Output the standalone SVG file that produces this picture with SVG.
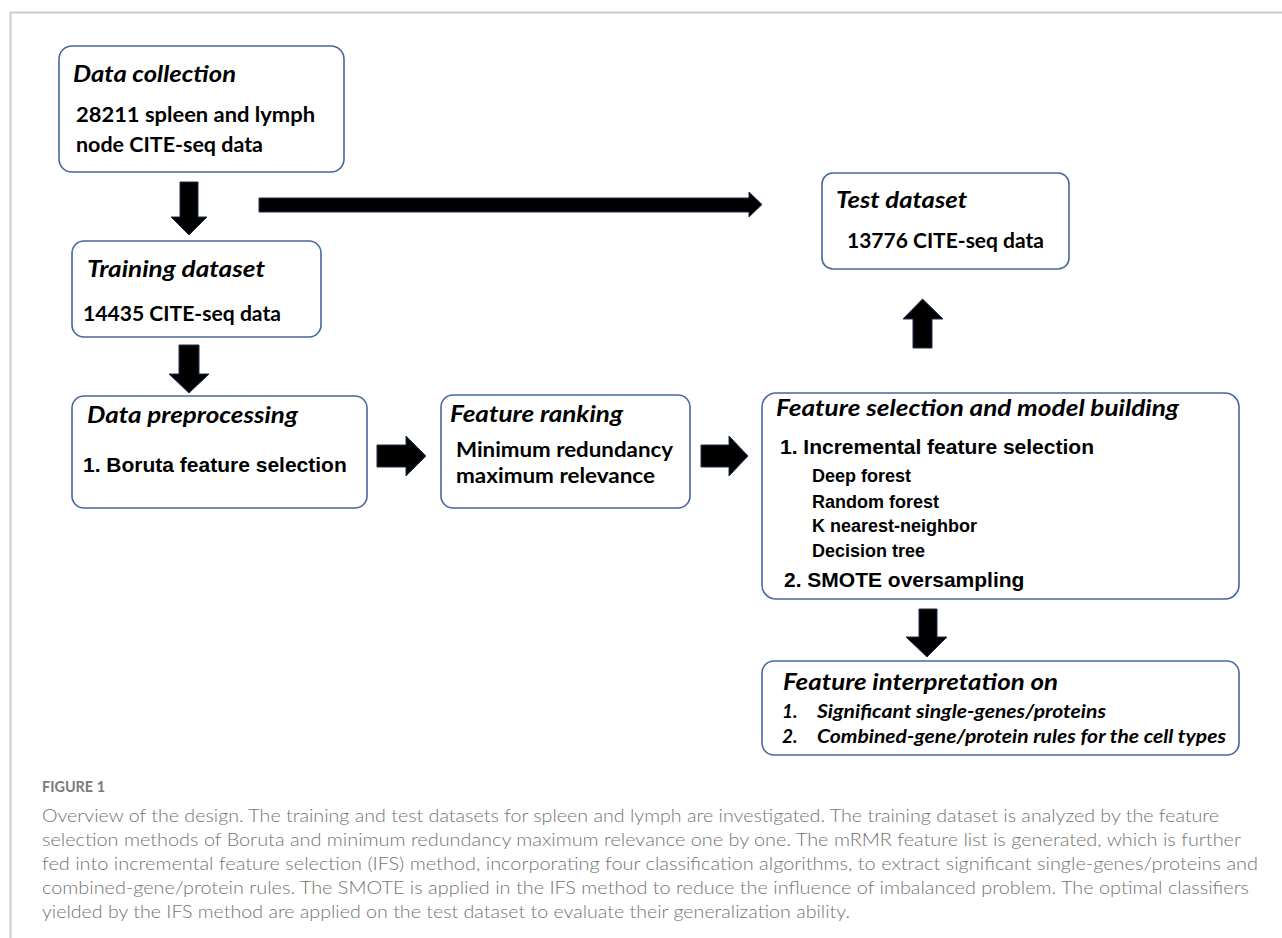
<svg xmlns="http://www.w3.org/2000/svg" width="1282" height="938" viewBox="0 0 1282 938">
<style>
.box{fill:#fff;stroke:#45679a;stroke-width:1.6}
.ttl{font-family:Lato,"Liberation Sans",sans-serif;font-weight:700;font-style:italic;font-size:22px;fill:#000}
.cal{font-family:Lato,"Liberation Sans",sans-serif;font-weight:700;font-size:21px;fill:#000}
.ari{font-family:"Liberation Sans",Arial,sans-serif;font-weight:700;font-size:21px;fill:#000}
.ari18{font-family:"Liberation Sans",Arial,sans-serif;font-weight:700;font-size:18px;fill:#000}
.lst{font-family:Lato,"Liberation Sans",sans-serif;font-weight:700;font-style:italic;font-size:19px;fill:#000}
.arr{fill:#000;stroke:#1d2d50;stroke-width:1}
.cap{font-family:Lato,"Open Sans",sans-serif;font-weight:300;font-size:18px;fill:#747474}
.fig{font-family:Lato,"Open Sans",sans-serif;font-weight:700;font-size:15px;fill:#7a7a7a}
</style>
<g id="frame">
<line x1="10" y1="12.5" x2="1282" y2="12.5" stroke="#cccccc" stroke-width="2"/>
<line x1="10.5" y1="12" x2="10.5" y2="938" stroke="#cccccc" stroke-width="2"/>
</g>
<g id="connectors">
<polygon class="arr" points="180,182 198,182 198,217 207,217 189,235 171,217 180,217"/>
<polygon class="arr" points="179,345 199,345 199,374 209,374 189,393 169,374 179,374"/>
<polygon class="arr" points="259,198 749,198 749,192 762,204.5 749,217 749,212 259,212"/>
<polygon class="arr" points="377,445 406,445 406,436 426,456 406,476 406,467 377,467"/>
<polygon class="arr" points="701,445 729,445 729,436 748,456 729,476 729,467 701,467"/>
<polygon class="arr" points="913,348 913,319 903,319 922.5,299 943,319 932,319 932,348"/>
<polygon class="arr" points="919,609 937,609 937,637 947,637 927,657 906,637 919,637"/>
</g>
<g id="data-collection">
<rect class="box" x="59" y="46" width="285" height="126" rx="13"/>
<text class="ttl" x="73" y="82" textLength="163" lengthAdjust="spacingAndGlyphs">Data collection</text>
<text class="cal" x="76" y="122" textLength="239" lengthAdjust="spacingAndGlyphs">28211 spleen and lymph</text>
<text class="cal" x="76" y="152" textLength="187" lengthAdjust="spacingAndGlyphs">node CITE-seq data</text>
</g>
<g id="training-dataset">
<rect class="box" x="72" y="241" width="249" height="96" rx="12"/>
<text class="ttl" x="87" y="277" textLength="178" lengthAdjust="spacingAndGlyphs">Training dataset</text>
<text class="cal" x="83" y="321" textLength="198" lengthAdjust="spacingAndGlyphs">14435 CITE-seq data</text>
</g>
<g id="data-preprocessing">
<rect class="box" x="72" y="396" width="295" height="112" rx="12"/>
<text class="ttl" x="87" y="423" textLength="211" lengthAdjust="spacingAndGlyphs">Data preprocessing</text>
<text class="ari" x="83" y="472">1. Boruta feature selection</text>
</g>
<g id="feature-ranking">
<rect class="box" x="441" y="395" width="249" height="113" rx="12"/>
<text class="ttl" x="450" y="422" textLength="173" lengthAdjust="spacingAndGlyphs">Feature ranking</text>
<text class="cal" x="456" y="457" textLength="217" lengthAdjust="spacingAndGlyphs">Minimum redundancy</text>
<text class="cal" x="456" y="483" textLength="199" lengthAdjust="spacingAndGlyphs">maximum relevance</text>
</g>
<g id="test-dataset">
<rect class="box" x="822" y="173" width="247" height="96" rx="11"/>
<text class="ttl" x="836" y="208" textLength="131" lengthAdjust="spacingAndGlyphs">Test dataset</text>
<text class="cal" x="847" y="248" textLength="197" lengthAdjust="spacingAndGlyphs">13776 CITE-seq data</text>
</g>
<g id="feature-selection">
<rect class="box" x="762" y="393" width="477" height="206" rx="14"/>
<text class="ttl" x="776" y="416" textLength="403" lengthAdjust="spacingAndGlyphs">Feature selection and model building</text>
<text class="ari" x="780" y="454">1. Incremental feature selection</text>
<text class="ari18" x="812" y="482">Deep forest</text>
<text class="ari18" x="812" y="508">Random forest</text>
<text class="ari18" x="812" y="532">K nearest-neighbor</text>
<text class="ari18" x="812" y="557">Decision tree</text>
<text class="ari" x="784" y="587">2. SMOTE oversampling</text>
</g>
<g id="feature-interpretation">
<rect class="box" x="762" y="661" width="477" height="94" rx="12"/>
<text class="ttl" x="783" y="690" textLength="275" lengthAdjust="spacingAndGlyphs">Feature interpretation on</text>
<text class="lst" x="782" y="718">1.</text>
<text class="lst" x="817" y="718" textLength="289" lengthAdjust="spacingAndGlyphs">Significant single-genes/proteins</text>
<text class="lst" x="782" y="743">2.</text>
<text class="lst" x="817" y="743" textLength="409" lengthAdjust="spacingAndGlyphs">Combined-gene/protein rules for the cell types</text>
</g>
<g id="caption">
<text class="fig" x="42" y="792" textLength="63" lengthAdjust="spacingAndGlyphs">FIGURE 1</text>
<text class="cap" x="42" y="822" textLength="1177" lengthAdjust="spacingAndGlyphs">Overview of the design. The training and test datasets for spleen and lymph are investigated. The training dataset is analyzed by the feature</text>
<text class="cap" x="42" y="846" textLength="1199" lengthAdjust="spacingAndGlyphs">selection methods of Boruta and minimum redundancy maximum relevance one by one. The mRMR feature list is generated, which is further</text>
<text class="cap" x="42" y="870" textLength="1216" lengthAdjust="spacingAndGlyphs">fed into incremental feature selection (IFS) method, incorporating four classification algorithms, to extract significant single-genes/proteins and</text>
<text class="cap" x="42" y="894" textLength="1207" lengthAdjust="spacingAndGlyphs">combined-gene/protein rules. The SMOTE is applied in the IFS method to reduce the influence of imbalanced problem. The optimal classifiers</text>
<text class="cap" x="42" y="918" textLength="808" lengthAdjust="spacingAndGlyphs">yielded by the IFS method are applied on the test dataset to evaluate their generalization ability.</text>
</g>
</svg>
